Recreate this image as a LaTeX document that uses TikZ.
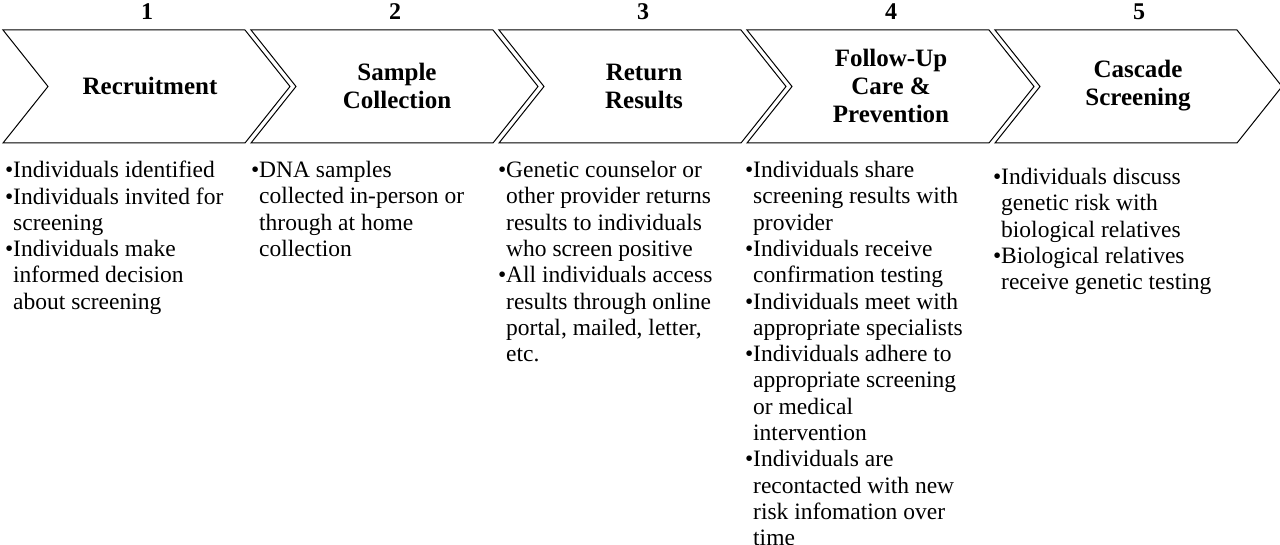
\documentclass[tikz,border=0pt]{standalone}
\usepackage{fontspec}
\setmainfont{Liberation Serif}
\newcommand{\bu}{\makebox[8pt][l]{•}}
\newcommand{\ind}{\\\hspace*{8pt}}
\begin{document}
\begin{tikzpicture}[x=1pt,y=-1pt,
  chev/.style={draw,line width=1pt,fill=white},
  head/.style={font=\fontsize{25}{28}\selectfont\bfseries,align=center},
  num/.style={font=\fontsize{24}{26}\selectfont\bfseries},
  lst/.style={anchor=north west,inner sep=0pt,align=left,font=\fontsize{23.5}{26.3}\selectfont}]
\useasboundingbox (0,0) rectangle (1280,545);
\foreach \i/\n in {0/1,1/2,2/3,3/4,4/5}{
  \pgfmathsetmacro\xl{3+248*\i}
  \draw[chev] (\xl,30) -- (\xl+242,30) -- (\xl+287,86.5) -- (\xl+242,143) -- (\xl,143) -- (\xl+45,86.5) -- cycle;
  \node[num] (n\n) at (\xl+144,12) {\n};
}
\node[head] (h1) at (150,86) {Recruitment};
\node[head] (h2) at (397,86) {Sample\\Collection};
\node[head] (h3) at (644,86) {Return\\Results};
\node[head] (h4) at (891,86) {Follow-Up\\Care \&\\Prevention};
\node[head] (h5) at (1138,86) {Cascade\\Screening};
\node[lst] (l1) at (5,161) {\bu Individuals identified\\\bu Individuals invited for\ind screening\\\bu Individuals make\ind informed decision\ind about screening};
\node[lst] (l2) at (251,161) {\bu DNA samples\ind collected in-person or\ind through at home\ind collection};
\node[lst] (l3) at (498,161) {\bu Genetic counselor or\ind other provider returns\ind results to individuals\ind who screen positive\\\bu All individuals access\ind results through online\ind portal, mailed, letter,\ind etc.};
\node[lst] (l4) at (745,161) {\bu Individuals share\ind screening results with\ind provider\\\bu Individuals receive\ind confirmation testing\\\bu Individuals meet with\ind appropriate specialists\\\bu Individuals adhere to\ind appropriate screening\ind or medical\ind intervention\\\bu Individuals are\ind recontacted with new\ind risk infomation over\ind time};
\node[lst] (l5) at (993,168) {\bu Individuals discuss\ind genetic risk with\ind biological relatives\\\bu Biological relatives\ind receive genetic testing};
\end{tikzpicture}
\end{document}
